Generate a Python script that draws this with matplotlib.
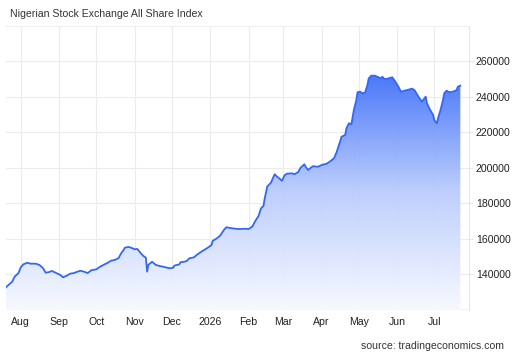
import numpy as np
import pandas as pd
import matplotlib
matplotlib.use("Agg")
import matplotlib.pyplot as plt
import matplotlib.dates as mdates
from matplotlib.colors import LinearSegmentedColormap

plt.rcParams['font.family'] = ['Liberation Sans', 'DejaVu Sans']

title = "Nigerian Stock Exchange All Share Index"
source = "source: tradingeconomics.com"

# index values
dates = [
    "2025-07-20", "2025-07-22", "2025-07-25", "2025-07-27", "2025-07-30",
    "2025-08-01", "2025-08-03", "2025-08-06", "2025-08-09", "2025-08-13",
    "2025-08-16", "2025-08-19", "2025-08-21", "2025-08-24", "2025-08-26",
    "2025-08-29", "2025-09-02", "2025-09-04", "2025-09-07", "2025-09-10",
    "2025-09-13", "2025-09-15", "2025-09-18", "2025-09-21", "2025-09-24",
    "2025-09-27", "2025-10-01", "2025-10-04", "2025-10-07", "2025-10-10",
    "2025-10-13", "2025-10-16", "2025-10-19", "2025-10-21", "2025-10-23",
    "2025-10-24", "2025-10-27", "2025-10-29", "2025-11-01", "2025-11-03",
    "2025-11-06", "2025-11-08", "2025-11-10", "2025-11-11", "2025-11-12",
    "2025-11-14", "2025-11-15", "2025-11-18", "2025-11-21", "2025-11-25",
    "2025-11-29", "2025-12-02", "2025-12-03", "2025-12-07", "2025-12-08",
    "2025-12-11", "2025-12-13", "2025-12-15", "2025-12-19", "2025-12-21",
    "2025-12-24", "2025-12-27", "2025-12-30", "2026-01-02", "2026-01-03",
    "2026-01-06", "2026-01-09", "2026-01-12", "2026-01-14", "2026-01-17",
    "2026-01-21", "2026-01-25", "2026-01-29", "2026-02-01", "2026-02-04",
    "2026-02-06", "2026-02-09", "2026-02-11", "2026-02-13", "2026-02-14",
    "2026-02-16", "2026-02-17", "2026-02-19", "2026-02-21", "2026-02-22",
    "2026-02-24", "2026-02-26", "2026-02-28", "2026-03-02", "2026-03-04",
    "2026-03-08", "2026-03-10", "2026-03-13", "2026-03-15", "2026-03-18",
    "2026-03-19", "2026-03-21", "2026-03-23", "2026-03-25", "2026-03-29",
    "2026-04-01", "2026-04-05", "2026-04-08", "2026-04-11", "2026-04-13",
    "2026-04-16", "2026-04-17", "2026-04-20", "2026-04-21", "2026-04-23",
    "2026-04-25", "2026-04-27", "2026-04-29", "2026-04-30", "2026-05-02",
    "2026-05-04", "2026-05-06", "2026-05-08", "2026-05-09", "2026-05-11",
    "2026-05-14", "2026-05-16", "2026-05-19", "2026-05-20", "2026-05-22",
    "2026-05-25", "2026-05-28", "2026-05-30", "2026-06-02", "2026-06-04",
    "2026-06-06", "2026-06-09", "2026-06-13", "2026-06-15", "2026-06-17",
    "2026-06-19", "2026-06-21", "2026-06-22", "2026-06-24", "2026-06-25",
    "2026-06-27", "2026-06-28", "2026-06-30", "2026-07-01", "2026-07-03",
    "2026-07-04", "2026-07-06", "2026-07-08", "2026-07-09", "2026-07-11",
    "2026-07-12", "2026-07-14", "2026-07-16", "2026-07-19", "2026-07-20",
    "2026-07-22",
]
values = [
    132800, 134100, 135900, 138800, 140700,
    144100, 145700, 146600, 146100, 146100,
    145400, 143500, 141000, 141400, 142000,
    141000, 139700, 138400, 139300, 140500,
    140800, 141400, 142100, 141600, 140800,
    142400, 142900, 144400, 145500, 146500,
    147800, 148200, 149300, 151900, 153800,
    155100, 155500, 155100, 154200, 154400,
    151900, 150400, 149500, 141600, 145400,
    146600, 147200, 145400, 144800, 144200,
    143500, 143800, 145000, 145700, 146900,
    147200, 147600, 149100, 149700, 151000,
    152500, 153800, 155100, 156600, 159000,
    160200, 161900, 165100, 166600, 166200,
    165800, 165600, 165800, 165600, 167000,
    169700, 173000, 177300, 178600, 182900,
    189500, 190300, 191700, 194800, 196500,
    195100, 194000, 192800, 195900, 196800,
    197000, 196500, 197700, 200200, 202100,
    200700, 198900, 200000, 201000, 200700,
    201700, 202400, 203800, 205500, 208800,
    215200, 217600, 218600, 222400, 225200,
    224600, 232700, 238300, 242700, 243000,
    242100, 242400, 246800, 250500, 252000,
    252000, 251400, 250500, 251400, 250000,
    250500, 251100, 249200, 245800, 243000,
    243400, 243900, 244700, 243900, 241500,
    239300, 237400, 238300, 240200, 236500,
    233600, 232300, 229900, 227000, 225200,
    228000, 232700, 238300, 242100, 243600,
    243000, 242700, 243000, 243900, 245800,
    246400,
]
yticks = [140000, 160000, 180000, 200000, 220000, 240000, 260000]
month_ticks = ["2025-08-01", "2025-09-01", "2025-10-01", "2025-11-01", "2025-12-01",
               "2026-01-01", "2026-02-01", "2026-03-01", "2026-04-01", "2026-05-01",
               "2026-06-01", "2026-07-01"]
month_labels = ["Aug", "Sep", "Oct", "Nov", "Dec", "2026", "Feb", "Mar", "Apr",
                "May", "Jun", "Jul"]

df = pd.DataFrame({"date": pd.to_datetime(dates), "value": values})

fig = plt.figure(figsize=(5.12, 3.54), dpi=100)
ax = fig.add_axes([0.0117, 0.1243, 0.9043, 0.8023])

ymin, ymax = 120000, 280000
xmin, xmax = pd.Timestamp("2025-07-20"), pd.Timestamp("2026-07-29")
ax.set_xlim(xmin, xmax)
ax.set_ylim(ymin, ymax)
ax.set_axisbelow(True)

# vertical gradient fill under the line
cmap = LinearSegmentedColormap.from_list("tegrad", ["#f7f9ff", "#b9cbfc", "#3a6cf9"])
grad = np.linspace(0, 1, 256).reshape(-1, 1)
x0, x1 = mdates.date2num(xmin), mdates.date2num(xmax)
img = ax.imshow(grad, aspect="auto", cmap=cmap, origin="lower", alpha=0.93,
                extent=[x0, x1, ymin, 254000], zorder=1)
poly = ax.fill_between(df["date"], df["value"], ymin, color="none", lw=0)
clip = poly.get_paths()[0]
img.set_clip_path(clip, transform=ax.transData)

ax.plot(df["date"], df["value"], color="#3468f2", lw=1.3, zorder=3)

ax.grid(True, color="#ececec", lw=0.8)
for s in ["left", "top", "bottom"]:
    ax.spines[s].set_visible(False)
ax.spines["right"].set_color("#e6e6e6")
ax.spines["right"].set_linewidth(0.8)
ax.axhline(ymin, color="#ececec", lw=1.2, zorder=0)
ax.axhline(ymax, color="#ececec", lw=1.2, zorder=0)

ax.yaxis.tick_right()
ax.set_yticks(yticks)
ax.set_yticklabels([str(v) for v in yticks])
ax.set_xticks(pd.to_datetime(month_ticks))
ax.set_xticklabels(month_labels)
ax.tick_params(axis="y", length=3, color="#e6e6e6", labelsize=7.6, pad=2, labelcolor="#222222")
ax.tick_params(axis="x", length=0, labelsize=7.6, pad=5, labelcolor="#222222")

fig.text(10 / 512, 1 - 14 / 354, title, fontsize=7.6, color="#333333", va="center", ha="left")
fig.text(504 / 512, 1 - 346 / 354, source, fontsize=7.6, color="#333333", va="center", ha="right")

fig.savefig("out.png", dpi=100)
